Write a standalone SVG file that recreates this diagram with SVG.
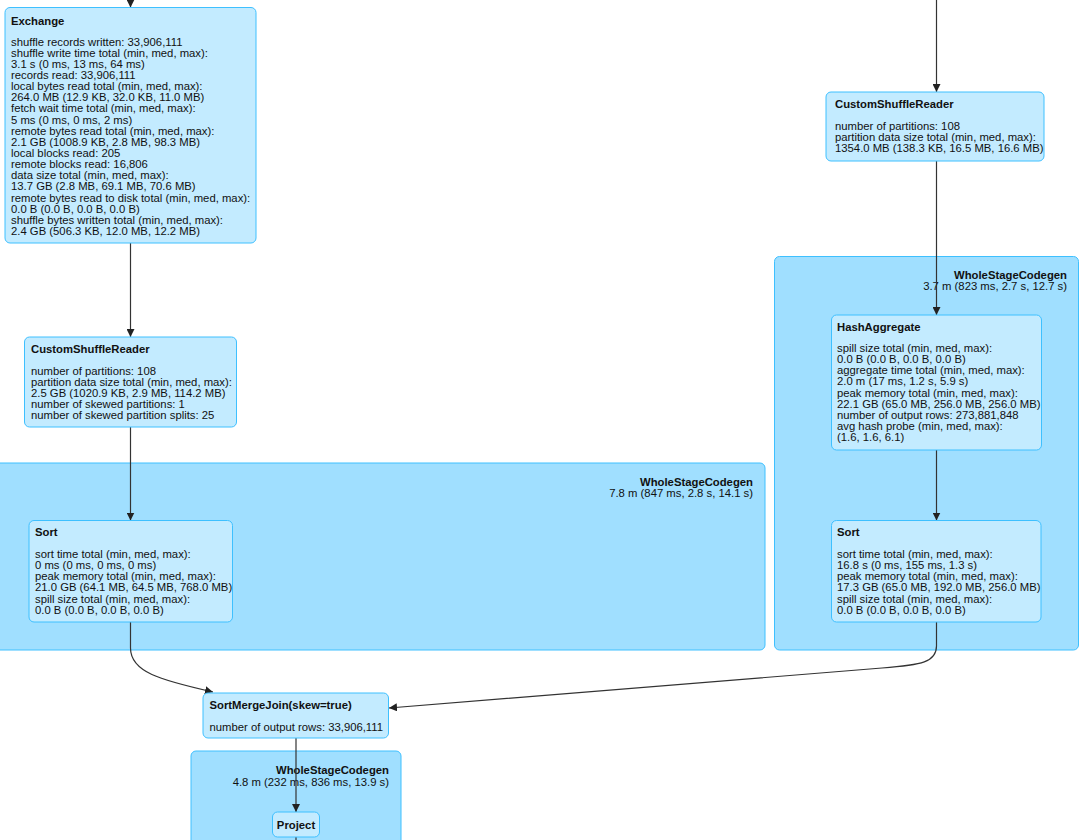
<svg xmlns="http://www.w3.org/2000/svg" width="1080" height="840" viewBox="0 0 1080 840">
<style>
.cl{fill:#A0DFFF;stroke:#3EC0FF;stroke-width:1}
.nd{fill:#C3EBFF;stroke:#3EC0FF;stroke-width:1}
text{font-family:"Liberation Sans",Arial,Helvetica,sans-serif;font-size:11.3px;fill:#111}
.t{font-weight:bold}
.r{text-anchor:end}
.e{fill:none;stroke:#333;stroke-width:1.2}
</style>
<defs>
<marker id="ah" viewBox="0 0 10 10" refX="10" refY="5" markerWidth="8" markerHeight="8" markerUnits="userSpaceOnUse" preserveAspectRatio="none" orient="auto">
<path d="M0,0 L10,5 L0,10 z" fill="#222"/>
</marker>
</defs>
<rect width="1080" height="840" fill="#fff"/>

<g id="wsc-left">
<rect class="cl" x="-10" y="463" width="775" height="187" rx="5"/>
<text class="t r" x="753" y="486">WholeStageCodegen</text>
<text class="r" x="753" y="497">7.8 m (847 ms, 2.8 s, 14.1 s)</text>
</g>
<g id="wsc-right">
<rect class="cl" x="774.5" y="256.5" width="304" height="393.5" rx="5"/>
<text class="t r" x="1067" y="279">WholeStageCodegen</text>
<text class="r" x="1067" y="290">3.7 m (823 ms, 2.7 s, 12.7 s)</text>
</g>
<g id="wsc-bottom">
<rect class="cl" x="191" y="751" width="210" height="100" rx="5"/>
<text class="t r" x="389" y="774">WholeStageCodegen</text>
<text class="r" x="389" y="786">4.8 m (232 ms, 836 ms, 13.9 s)</text>
</g>

<g id="connectors">
<path class="e" d="M130.5,0 L130.5,7.5" marker-end="url(#ah)"/>
<path class="e" d="M130.5,243 L130.5,337" marker-end="url(#ah)"/>
<path class="e" d="M130.5,427 L130.5,520.5" marker-end="url(#ah)"/>
<path class="e" d="M936.5,0 L936.5,92" marker-end="url(#ah)"/>
<path class="e" d="M936.5,161 L936.5,315" marker-end="url(#ah)"/>
<path class="e" d="M936.5,450 L936.5,520.5" marker-end="url(#ah)"/>
<path class="e" d="M130.5,622 L130.5,648 C130.5,672 160,680 213,692" marker-end="url(#ah)"/>
<path class="e" d="M936.5,622 L936.5,646 C936.5,662 922,665 882,668 L389,708" marker-end="url(#ah)"/>
<path class="e" d="M296,738 L296,812" marker-end="url(#ah)"/>
<path class="e" d="M296,837 L296,840"/>
</g>

<g id="exchange">
<rect class="nd" x="5" y="7.5" width="251" height="235.5" rx="5"/>
<text class="t" x="11" y="25">Exchange</text>
<text x="11" y="45.5">
<tspan x="11" dy="0">shuffle records written: 33,906,111</tspan>
<tspan x="11" dy="11.15">shuffle write time total (min, med, max):</tspan>
<tspan x="11" dy="11.15">3.1 s (0 ms, 13 ms, 64 ms)</tspan>
<tspan x="11" dy="11.15">records read: 33,906,111</tspan>
<tspan x="11" dy="11.15">local bytes read total (min, med, max):</tspan>
<tspan x="11" dy="11.15">264.0 MB (12.9 KB, 32.0 KB, 11.0 MB)</tspan>
<tspan x="11" dy="11.15">fetch wait time total (min, med, max):</tspan>
<tspan x="11" dy="11.15">5 ms (0 ms, 0 ms, 2 ms)</tspan>
<tspan x="11" dy="11.15">remote bytes read total (min, med, max):</tspan>
<tspan x="11" dy="11.15">2.1 GB (1008.9 KB, 2.8 MB, 98.3 MB)</tspan>
<tspan x="11" dy="11.15">local blocks read: 205</tspan>
<tspan x="11" dy="11.15">remote blocks read: 16,806</tspan>
<tspan x="11" dy="11.15">data size total (min, med, max):</tspan>
<tspan x="11" dy="11.15">13.7 GB (2.8 MB, 69.1 MB, 70.6 MB)</tspan>
<tspan x="11" dy="11.15">remote bytes read to disk total (min, med, max):</tspan>
<tspan x="11" dy="11.15">0.0 B (0.0 B, 0.0 B, 0.0 B)</tspan>
<tspan x="11" dy="11.15">shuffle bytes written total (min, med, max):</tspan>
<tspan x="11" dy="11.15">2.4 GB (506.3 KB, 12.0 MB, 12.2 MB)</tspan>
</text>
</g>

<g id="csr-left">
<rect class="nd" x="24.5" y="337" width="212" height="90" rx="5"/>
<text class="t" x="31" y="353">CustomShuffleReader</text>
<text x="31" y="374.5">
<tspan x="31" dy="0">number of partitions: 108</tspan>
<tspan x="31" dy="11.15">partition data size total (min, med, max):</tspan>
<tspan x="31" dy="11.15">2.5 GB (1020.9 KB, 2.9 MB, 114.2 MB)</tspan>
<tspan x="31" dy="11.15">number of skewed partitions: 1</tspan>
<tspan x="31" dy="11.15">number of skewed partition splits: 25</tspan>
</text>
</g>

<g id="sort-left">
<rect class="nd" x="29" y="520.5" width="203.5" height="101.5" rx="5"/>
<text class="t" x="35" y="536">Sort</text>
<text x="35" y="558">
<tspan x="35" dy="0">sort time total (min, med, max):</tspan>
<tspan x="35" dy="11.15">0 ms (0 ms, 0 ms, 0 ms)</tspan>
<tspan x="35" dy="11.15">peak memory total (min, med, max):</tspan>
<tspan x="35" dy="11.15">21.0 GB (64.1 MB, 64.5 MB, 768.0 MB)</tspan>
<tspan x="35" dy="11.15">spill size total (min, med, max):</tspan>
<tspan x="35" dy="11.15">0.0 B (0.0 B, 0.0 B, 0.0 B)</tspan>
</text>
</g>

<g id="csr-right">
<rect class="nd" x="826" y="92" width="218" height="69" rx="5"/>
<text class="t" x="835" y="108">CustomShuffleReader</text>
<text x="835" y="129.5">
<tspan x="835" dy="0">number of partitions: 108</tspan>
<tspan x="835" dy="11.15">partition data size total (min, med, max):</tspan>
<tspan x="835" dy="11.15">1354.0 MB (138.3 KB, 16.5 MB, 16.6 MB)</tspan>
</text>
</g>

<g id="hash-aggregate">
<rect class="nd" x="831.5" y="315" width="210" height="135" rx="5"/>
<text class="t" x="837" y="331">HashAggregate</text>
<text x="837" y="352">
<tspan x="837" dy="0">spill size total (min, med, max):</tspan>
<tspan x="837" dy="11.15">0.0 B (0.0 B, 0.0 B, 0.0 B)</tspan>
<tspan x="837" dy="11.15">aggregate time total (min, med, max):</tspan>
<tspan x="837" dy="11.15">2.0 m (17 ms, 1.2 s, 5.9 s)</tspan>
<tspan x="837" dy="11.15">peak memory total (min, med, max):</tspan>
<tspan x="837" dy="11.15">22.1 GB (65.0 MB, 256.0 MB, 256.0 MB)</tspan>
<tspan x="837" dy="11.15">number of output rows: 273,881,848</tspan>
<tspan x="837" dy="11.15">avg hash probe (min, med, max):</tspan>
<tspan x="837" dy="11.15">(1.6, 1.6, 6.1)</tspan>
</text>
</g>

<g id="sort-right">
<rect class="nd" x="831.5" y="520.5" width="209.5" height="101.5" rx="5"/>
<text class="t" x="837" y="536">Sort</text>
<text x="837" y="558">
<tspan x="837" dy="0">sort time total (min, med, max):</tspan>
<tspan x="837" dy="11.15">16.8 s (0 ms, 155 ms, 1.3 s)</tspan>
<tspan x="837" dy="11.15">peak memory total (min, med, max):</tspan>
<tspan x="837" dy="11.15">17.3 GB (65.0 MB, 192.0 MB, 256.0 MB)</tspan>
<tspan x="837" dy="11.15">spill size total (min, med, max):</tspan>
<tspan x="837" dy="11.15">0.0 B (0.0 B, 0.0 B, 0.0 B)</tspan>
</text>
</g>

<g id="sort-merge-join">
<rect class="nd" x="203" y="693" width="185.5" height="45" rx="5"/>
<text class="t" x="209.5" y="708.5">SortMergeJoin(skew=true)</text>
<text x="209.5" y="730.5">number of output rows: 33,906,111</text>
</g>

<g id="project">
<rect class="nd" x="272.5" y="812" width="47" height="25" rx="5"/>
<text class="t" x="296" y="828.5" text-anchor="middle">Project</text>
</g>
</svg>
